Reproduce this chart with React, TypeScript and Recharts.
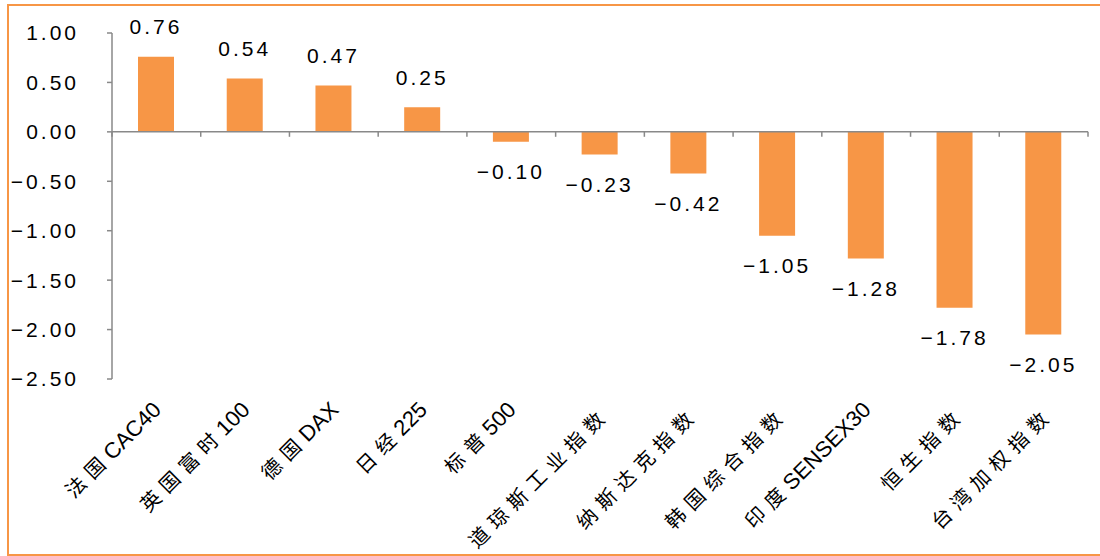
import { BarChart, Bar, XAxis, YAxis, ReferenceLine, LabelList } from 'recharts';

const indexNames = [
    '法国CAC40',
    '英国富时100',
    '德国DAX',
    '日经225',
    '标普500',
    '道琼斯工业指数',
    '纳斯达克指数',
    '韩国综合指数',
    '印度SENSEX30',
    '恒生指数',
    '台湾加权指数',
];

const changePct = [0.76, 0.54, 0.47, 0.25, -0.1, -0.23, -0.42, -1.05, -1.28, -1.78, -2.05];

const yTicks = [1, 0.5, 0, -0.5, -1, -1.5, -2, -2.5];

// category boundaries, used for the short ticks hanging off the zero line
const edgeTicks = [0, 1, 2, 3, 4, 5, 6, 7, 8, 9, 10, 11];

const data = indexNames.map((name, i) => ({ name, value: changePct[i], pos: i + 0.5 }));

const ORANGE = '#F79646';
const GREY = '#898989';
const NUM_FONT = "'Liberation Sans', 'Noto Sans CJK SC', sans-serif";
const CJK_FONT = "'Noto Sans CJK SC', sans-serif";
const CJK_SPACING = 7;

// two decimals, with a proper minus sign
const fmt = (v: number) => (v < 0 ? '\u2212' : '') + Math.abs(v).toFixed(2);

// Chinese runs are spaced out, Latin runs are set tight
const splitRuns = (s: string) => s.split(/([\u4e00-\u9fff]+)/).filter(Boolean);

const CategoryTick = ({ x, payload }: any) => {
    const label = String(payload.value);
    const endsCjk = /[\u4e00-\u9fff]$/.test(label);
    const shift = endsCjk ? CJK_SPACING * 0.707 : 0;
    const ax = x + 6 + shift;
    const ay = 411 + shift;
    return (
        <text
            x={ax}
            y={ay}
            textAnchor="end"
            transform={`rotate(-45, ${ax}, ${ay})`}
            fontSize={21}
            fill="#000"
        >
            {splitRuns(label).map((run, i) =>
                /[\u4e00-\u9fff]/.test(run) ? (
                    <tspan key={i} fontFamily={CJK_FONT} fontSize={20} letterSpacing={CJK_SPACING}>
                        {run}
                    </tspan>
                ) : (
                    <tspan key={i} fontFamily="'Liberation Sans', sans-serif" fontSize={22}>
                        {run}
                    </tspan>
                )
            )}
        </text>
    );
};

const ValueLabel = ({ x, y, width, height, value }: any) => {
    const top = Math.min(y, y + height);
    const bottom = Math.max(y, y + height);
    const cy = value >= 0 ? top - 30 : bottom + 30;
    return (
        <text
            x={x + width / 2}
            y={cy}
            textAnchor="middle"
            dominantBaseline="central"
            fontSize={21}
            letterSpacing={3}
            fontFamily={NUM_FONT}
            fill="#000"
        >
            {fmt(Number(value))}
        </text>
    );
};

const App = () => (
    <div style={{ position: 'absolute', left: 0, top: 0, width: 1100, height: 556, background: '#fff', overflow: 'hidden' }}>
        <div
            style={{
                position: 'absolute',
                left: 7,
                top: 4,
                width: 1110,
                height: 552,
                border: `2px solid ${ORANGE}`,
                boxSizing: 'border-box',
            }}
        />
        <BarChart
            width={1100}
            height={556}
            data={data}
            margin={{ top: 33, right: 12, bottom: 0, left: 0 }}
            style={{ position: 'absolute', left: 0, top: 0 }}
        >
            <XAxis
                xAxisId="cat"
                dataKey="name"
                axisLine={false}
                tickLine={false}
                height={177}
                interval={0}
                tick={<CategoryTick />}
            />
            <XAxis xAxisId="edge" type="number" dataKey="pos" domain={[0, 11]} ticks={edgeTicks} hide />
            <YAxis
                domain={[-2.5, 1]}
                ticks={yTicks}
                width={112}
                interval={0}
                tickFormatter={(v) => fmt(Number(v))}
                tick={{ fontSize: 21, fill: '#000', fontFamily: NUM_FONT, letterSpacing: 3 }}
                tickSize={5}
                tickMargin={28}
                axisLine={{ stroke: GREY, strokeWidth: 1.5 }}
                tickLine={{ stroke: GREY, strokeWidth: 1.5 }}
            />
            <ReferenceLine xAxisId="cat" y={0} stroke={GREY} strokeWidth={1.5} />
            {edgeTicks.map((t) => (
                <ReferenceLine
                    key={t}
                    xAxisId="edge"
                    segment={[
                        { x: t, y: 0 },
                        { x: t, y: -0.05 },
                    ]}
                    stroke={GREY}
                    strokeWidth={1.5}
                    ifOverflow="visible"
                />
            ))}
            <Bar xAxisId="cat" dataKey="value" fill={ORANGE} barSize={36} isAnimationActive={false}>
                <LabelList dataKey="value" content={<ValueLabel />} />
            </Bar>
        </BarChart>
    </div>
);

export default App;
